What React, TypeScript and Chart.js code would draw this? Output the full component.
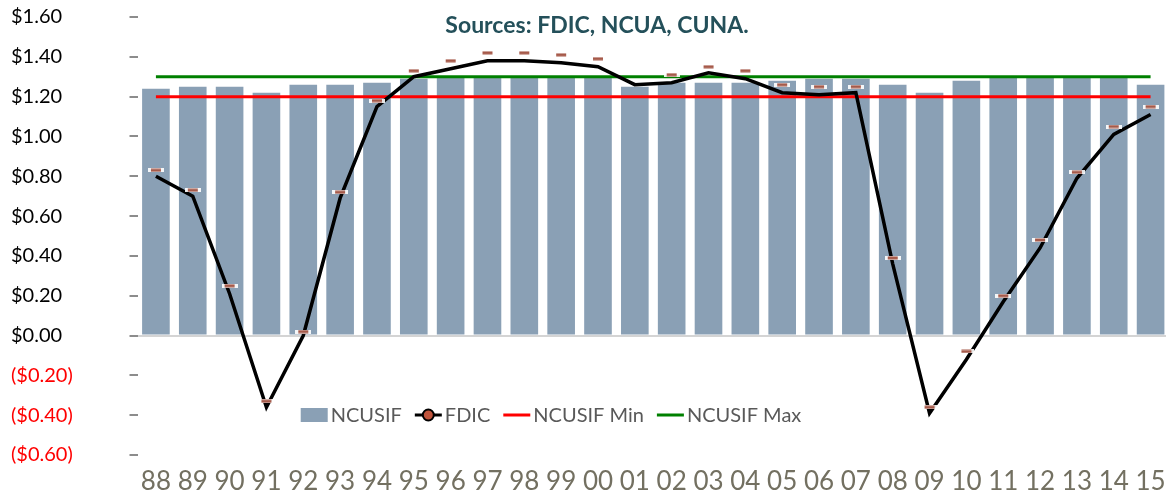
import React, { useEffect, useRef } from 'react';
import { Chart, registerables } from 'chart.js';

Chart.register(...registerables);

const categories = ['88', '89', '90', '91', '92', '93', '94', '95', '96', '97', '98', '99', '00', '01', '02', '03', '04', '05', '06', '07', '08', '09', '10', '11', '12', '13', '14', '15'];

const ncusif = [1.24, 1.25, 1.25, 1.22, 1.26, 1.26, 1.27, 1.29, 1.30, 1.30, 1.30, 1.30, 1.30, 1.25, 1.27, 1.27, 1.27, 1.28, 1.29, 1.29, 1.26, 1.22, 1.28, 1.30, 1.30, 1.30, 1.30, 1.26];

const fdicLine = [0.80, 0.70, 0.21, -0.36, 0.00, 0.69, 1.15, 1.30, 1.34, 1.38, 1.38, 1.37, 1.35, 1.26, 1.27, 1.32, 1.29, 1.22, 1.21, 1.22, 0.36, -0.39, -0.12, 0.17, 0.44, 0.79, 1.01, 1.11];

const fdicMarkers = [0.83, 0.73, 0.25, -0.33, 0.02, 0.72, 1.18, 1.33, 1.38, 1.42, 1.42, 1.41, 1.39, null, 1.31, 1.35, 1.33, 1.26, 1.25, 1.25, 0.39, -0.36, -0.08, 0.20, 0.48, 0.82, 1.05, 1.15];

const ncusifMin = [1.2, 1.2, 1.2, 1.2, 1.2, 1.2, 1.2, 1.2, 1.2, 1.2, 1.2, 1.2, 1.2, 1.2, 1.2, 1.2, 1.2, 1.2, 1.2, 1.2, 1.2, 1.2, 1.2, 1.2, 1.2, 1.2, 1.2, 1.2];

const ncusifMax = [1.3, 1.3, 1.3, 1.3, 1.3, 1.3, 1.3, 1.3, 1.3, 1.3, 1.3, 1.3, 1.3, 1.3, 1.3, 1.3, 1.3, 1.3, 1.3, 1.3, 1.3, 1.3, 1.3, 1.3, 1.3, 1.3, 1.3, 1.3];

const yMin = -0.6;
const yMax = 1.6;
const yStep = 0.2;

const titleText = 'Sources: FDIC, NCUA, CUNA.';
const legendLabels = ['NCUSIF', 'FDIC', 'NCUSIF Min', 'NCUSIF Max'];

const BAR_COLOR = '#8aa0b5';
const MARKER_COLOR = '#a65a4a';

function makeMarker(): HTMLCanvasElement {
  const c = document.createElement('canvas');
  c.width = 16;
  c.height = 4;
  const g = c.getContext('2d')!;
  g.fillStyle = 'rgba(255,255,255,0.9)';
  g.fillRect(0, 0, 16, 4);
  g.fillStyle = MARKER_COLOR;
  g.fillRect(3, 0.5, 10, 3);
  return c;
}

const overlayPlugin = {
  id: 'overlay',
  afterDraw(chart: any) {
    const ctx = chart.ctx as CanvasRenderingContext2D;
    ctx.save();
    // title
    ctx.font = 'bold 23px Lato';
    ctx.fillStyle = '#24505a';
    ctx.textAlign = 'center';
    ctx.textBaseline = 'middle';
    ctx.fillText(titleText, 597, 26);

    // legend
    ctx.font = '20px Lato';
    ctx.textAlign = 'left';
    const symW = 27;
    const gapText = 3;
    const gapItem = 13;
    const widths = legendLabels.map((l) => ctx.measureText(l).width);
    const total = widths.reduce((a, w) => a + symW + gapText + w, 0) + gapItem * (legendLabels.length - 1);
    let x = 551 - total / 2;
    const cy = 415;
    legendLabels.forEach((label, i) => {
      if (i === 0) {
        ctx.fillStyle = BAR_COLOR;
        ctx.fillRect(x, cy - 7, symW, 14);
      } else if (i === 1) {
        ctx.strokeStyle = '#000';
        ctx.lineWidth = 3;
        ctx.beginPath();
        ctx.moveTo(x, cy);
        ctx.lineTo(x + symW, cy);
        ctx.stroke();
        ctx.beginPath();
        ctx.arc(x + symW / 2, cy, 5.5, 0, Math.PI * 2);
        ctx.fillStyle = '#c0543c';
        ctx.fill();
        ctx.lineWidth = 2;
        ctx.stroke();
      } else {
        ctx.strokeStyle = i === 2 ? '#ff0000' : '#008000';
        ctx.lineWidth = 3;
        ctx.beginPath();
        ctx.moveTo(x, cy);
        ctx.lineTo(x + symW, cy);
        ctx.stroke();
      }
      ctx.fillStyle = '#595959';
      ctx.fillText(label, x + symW + gapText, cy + 1);
      x += symW + gapText + widths[i] + gapItem;
    });
    ctx.restore();
  },
};

function formatTick(v: number): string {
  const r = Math.round(v * 100) / 100;
  if (r < 0) return '($' + Math.abs(r).toFixed(2) + ')';
  return '$' + Math.abs(r).toFixed(2);
}

export default function App() {
  const ref = useRef<HTMLCanvasElement | null>(null);

  useEffect(() => {
    if (!ref.current) return;
    const marker = makeMarker();
    const chart = new Chart(ref.current, {
      type: 'bar',
      data: {
        labels: categories,
        datasets: [
          {
            type: 'line',
            label: 'FDIC markers',
            data: fdicMarkers as any,
            showLine: false,
            pointStyle: marker as any,
            pointRadius: 6,
            order: 0,
          } as any,
          {
            type: 'line',
            label: 'FDIC',
            data: fdicLine,
            borderColor: '#000000',
            borderWidth: 3.5,
            pointRadius: 0,
            tension: 0,
            fill: false,
            order: 1,
          },
          {
            type: 'line',
            label: 'NCUSIF Max',
            data: ncusifMax,
            borderColor: '#008000',
            borderWidth: 3,
            pointRadius: 0,
            fill: false,
            order: 2,
          },
          {
            type: 'line',
            label: 'NCUSIF Min',
            data: ncusifMin,
            borderColor: '#ff0000',
            borderWidth: 3,
            pointRadius: 0,
            fill: false,
            order: 3,
          },
          {
            type: 'bar',
            label: 'NCUSIF',
            data: ncusif,
            backgroundColor: BAR_COLOR,
            borderWidth: 0,
            barPercentage: 0.75,
            categoryPercentage: 1,
            order: 4,
          },
        ],
      },
      options: {
        responsive: false,
        animation: false,
        layout: { padding: { left: 11, top: 17, right: 0, bottom: 0 } },
        plugins: {
          legend: { display: false },
          tooltip: { enabled: false },
          title: { display: false },
        },
        scales: {
          x: {
            grid: { display: false },
            border: { display: false },
            ticks: {
              font: { family: 'Lato', size: 26 },
              color: '#737061',
              padding: 3,
              maxRotation: 0,
              autoSkip: false,
            },
            afterFit: (s: any) => {
              s.height = 36;
            },
          },
          y: {
            min: yMin,
            max: yMax,
            border: { display: false },
            grid: {
              drawOnChartArea: true,
              drawTicks: true,
              tickLength: 8,
              tickWidth: 2,
              tickColor: '#8c8c8c',
              lineWidth: 2,
              color: (c: any) => (c.tick && Math.abs(c.tick.value) < 1e-9 ? '#d4d4d4' : 'rgba(0,0,0,0)'),
            },
            ticks: {
              stepSize: yStep,
              crossAlign: 'far',
              font: { family: 'Lato', size: 20 },
              color: (c: any) => (c.tick && c.tick.value < -1e-9 ? '#ff0000' : '#000000'),
              callback: (v: any) => formatTick(Number(v)),
            },
            afterFit: (s: any) => {
              s.width = 126.5;
            },
          },
        },
      },
      plugins: [overlayPlugin],
    } as any);
    return () => chart.destroy();
  }, []);

  return (
    <div style={{ position: 'fixed', left: 0, top: 0, width: 1166, height: 491, overflow: 'hidden', background: '#fff' }}>
      <canvas ref={ref} width={1176} height={491} style={{ width: 1176, height: 491, display: 'block' }} />
    </div>
  );
}
